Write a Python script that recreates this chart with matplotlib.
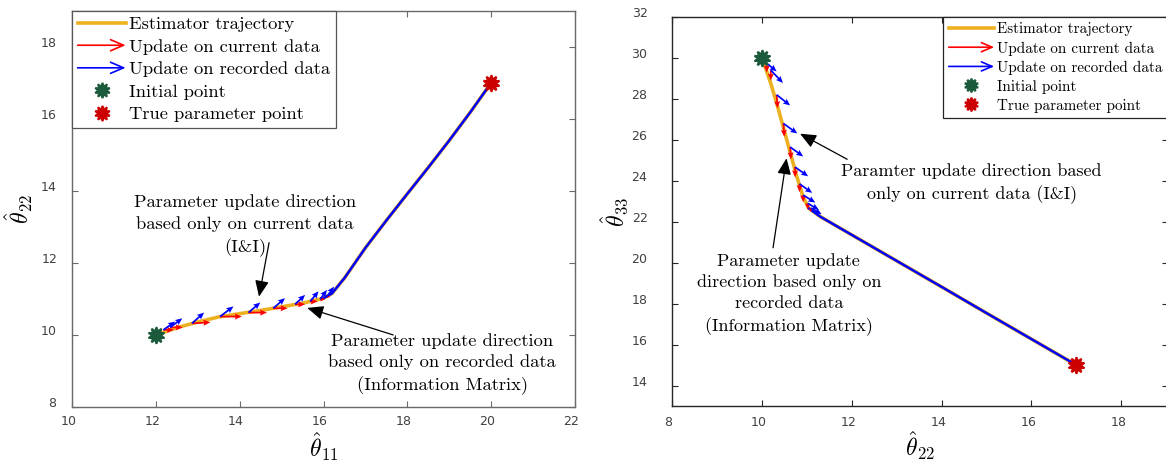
import numpy as np
import matplotlib
matplotlib.use("Agg")
import matplotlib.pyplot as plt
import matplotlib.transforms as mtransforms
from matplotlib.lines import Line2D
from matplotlib.patches import FancyArrowPatch
from matplotlib.legend_handler import HandlerBase

plt.rcParams['mathtext.fontset'] = 'cm'
plt.rcParams['axes.formatter.use_mathtext'] = True

# ---- left panel data (theta_11 vs theta_22) ----
traj1_x = [12.0, 12.5, 13.0, 13.5, 14.0, 14.5, 15.0, 15.5, 16.0, 16.2, 16.5, 17.0, 17.5, 18.0, 18.5, 19.0, 19.5, 20.0]
traj1_y = [10.0, 10.2, 10.36, 10.5, 10.59, 10.68, 10.78, 10.88, 11.02, 11.15, 11.58, 12.42, 13.18, 13.92, 14.65, 15.4, 16.18, 17.0]
arr1_x = [12.18, 12.34, 12.86, 13.53, 14.21, 14.8, 15.32, 15.68, 15.92, 16.08]
arr1_y = [10.14, 10.21, 10.32, 10.51, 10.62, 10.74, 10.85, 10.93, 10.99, 11.06]
cur1_u = [0.25, 0.3, 0.44, 0.52, 0.44, 0.34, 0.24, 0.18, 0.12, 0.08]
cur1_v = [0.0, 0.0, 0.03, 0.0, 0.0, 0.0, 0.0, 0.0, 0.0, 0.0]
rec1_u = [0.28, 0.29, 0.29, 0.32, 0.28, 0.28, 0.24, 0.2, 0.16, 0.17]
rec1_v = [0.23, 0.25, 0.3, 0.28, 0.28, 0.28, 0.26, 0.28, 0.26, 0.28]
init1 = (12.0, 10.0)
true1 = (20.0, 17.0)

# ---- right panel data (theta_22 vs theta_33) ----
traj2_x = [10.0, 10.1, 10.2, 10.33, 10.48, 10.63, 10.78, 10.92, 11.05, 11.3, 12.0, 13.0, 14.0, 15.0, 16.0, 17.0]
traj2_y = [30.0, 29.4, 28.75, 27.8, 26.6, 25.4, 24.2, 23.2, 22.65, 22.25, 21.36, 20.09, 18.82, 17.54, 16.27, 15.0]
arr2_x = [10.11, 10.2, 10.33, 10.48, 10.63, 10.74, 10.84, 10.92, 11.02, 11.09]
arr2_y = [29.74, 29.4, 28.2, 26.8, 25.65, 24.67, 23.85, 23.3, 22.9, 22.67]
cur2_u = [0.0, 0.0, 0.02, 0.02, 0.02, 0.0, 0.0, 0.0, 0.0, 0.0]
cur2_v = [-0.45, -0.5, -0.65, -0.65, -0.6, -0.5, -0.4, -0.35, -0.3, -0.2]
rec2_u = [0.22, 0.27, 0.3, 0.31, 0.29, 0.29, 0.28, 0.27, 0.25, 0.24]
rec2_v = [-0.4, -0.62, -0.52, -0.49, -0.46, -0.45, -0.44, -0.36, -0.32, -0.3]
init2 = (10.0, 30.0)
true2 = (17.0, 15.0)

c_traj = '#EDB120'
c_cur = '#FF0000'
c_rec = '#0000FF'
c_init = '#1B5A3A'
c_true = '#CC0000'
star = (10, 1, 0)
serif = 'cmr10'
arrow_kw = dict(arrowstyle='-|>,head_length=0.7,head_width=0.3',
                mutation_scale=14, color='k', lw=0.9, shrinkA=0, shrinkB=0)


class HandlerArrow(HandlerBase):
    def create_artists(self, legend, orig_handle, xdescent, ydescent,
                       width, height, fontsize, trans):
        y = height / 2 - ydescent
        a = FancyArrowPatch((-xdescent, y), (-xdescent + width, y),
                            arrowstyle='->,head_length=0.7,head_width=0.3',
                            mutation_scale=fontsize, color=orig_handle.get_color(),
                            lw=1.2, transform=trans, shrinkA=0, shrinkB=0)
        return [a]


def nudge_ticks(fig, ax, dx, dy):
    # MATLAB export places tick labels slightly off their ticks
    offx = mtransforms.ScaledTranslation(-dx / 100, 0, fig.dpi_scale_trans)
    offy = mtransforms.ScaledTranslation(0, dy / 100, fig.dpi_scale_trans)
    for lab in ax.get_xticklabels():
        lab.set_transform(lab.get_transform() + offx)
    for lab in ax.get_yticklabels():
        lab.set_transform(lab.get_transform() + offy)


def style_axes(ax, spine_col, ypad, xpad):
    for s in ax.spines.values():
        s.set_color(spine_col)
        s.set_linewidth(1.0)
    ax.tick_params(direction='in', length=4, width=0.8, color=spine_col,
                   top=True, right=True, labelsize=9, labelcolor='#404040')
    ax.tick_params(axis='y', pad=ypad)
    ax.tick_params(axis='x', pad=xpad)
    for lab in ax.get_xticklabels() + ax.get_yticklabels():
        lab.set_family(['Liberation Sans Narrow', 'DejaVu Sans'])


def draw_panel(ax, tx, ty, k, ax_, ay_, cu, cv, ru, rv, p0, p1, ms):
    ax.plot(tx, ty, color=c_traj, lw=2.6, solid_capstyle='round', zorder=2)
    ax.plot(tx[k:], ty[k:], color=c_rec, lw=1.8, zorder=3)
    ax.quiver(ax_, ay_, cu, cv, color=c_cur, angles='xy', scale_units='xy', scale=1,
              width=0.0035, headwidth=3.5, headlength=4, headaxislength=3.5, zorder=4)
    ax.quiver(ax_, ay_, ru, rv, color=c_rec, angles='xy', scale_units='xy', scale=1,
              width=0.0035, headwidth=3.5, headlength=4, headaxislength=3.5, zorder=5)
    ax.plot(*p0, ls='none', marker=star, ms=ms, mew=1.5, color=c_init, zorder=6)
    ax.plot(*p1, ls='none', marker=star, ms=ms, mew=1.5, color=c_true, zorder=6)


def legend_handles(ms):
    return [
        Line2D([], [], color=c_traj, lw=2.6),
        Line2D([], [], color=c_cur),
        Line2D([], [], color=c_rec),
        Line2D([], [], ls='none', marker=star, ms=ms, mew=1.5, color=c_init),
        Line2D([], [], ls='none', marker=star, ms=ms, mew=1.5, color=c_true),
    ]


labels = ['Estimator trajectory', 'Update on current data', 'Update on recorded data',
          'Initial point', 'True parameter point']

fig = plt.figure(figsize=(11.66, 4.63), dpi=100)
ax1 = fig.add_axes([0.0618, 0.121, 0.4314, 0.856])
ax2 = fig.add_axes([0.5763, 0.1231, 0.4254, 0.8402])

# left panel
draw_panel(ax1, traj1_x, traj1_y, 8, arr1_x, arr1_y, cur1_u, cur1_v, rec1_u, rec1_v,
           init1, true1, 12)
ax1.set_xlim(10, 22)
ax1.set_ylim(8, 19)
ax1.set_xticks(np.arange(10, 23, 2))
ax1.set_yticks(np.arange(8, 19, 2))
style_axes(ax1, '#6a6a6a', 10.5, 5.5)
ax1.set_xlabel(r'$\hat{\theta}_{11}$', fontsize=17, labelpad=2)
ax1.set_ylabel(r'$\hat{\theta}_{22}$', fontsize=17, labelpad=4)
h = legend_handles(11)
hm = {h[1]: HandlerArrow(), h[2]: HandlerArrow()}
leg = ax1.legend(h, labels, loc='upper left', borderaxespad=0, handler_map=hm,
                 prop={'family': serif, 'size': 13.3}, handlelength=2.6,
                 handletextpad=0.2, labelspacing=0.36, borderpad=0.3,
                 fancybox=False, framealpha=1, edgecolor='#555555')
leg.get_frame().set_linewidth(0.9)

ax1.text(14.13, 13.03, 'Parameter update direction\nbased only on current data\n(I&I)',
         ha='center', va='center', family=serif, fontsize=13.3, linespacing=1.45)
ax1.annotate('', xy=(14.46, 11.06), xytext=(14.70, 12.56), arrowprops=arrow_kw)
ax1.text(18.83, 9.19, 'Parameter update direction\nbased only on recorded data\n(Information Matrix)',
         ha='center', va='center', family=serif, fontsize=13.3, linespacing=1.45)
ax1.annotate('', xy=(15.61, 10.75), xytext=(17.66, 10.0), arrowprops=arrow_kw)

# right panel
draw_panel(ax2, traj2_x, traj2_y, 8, arr2_x, arr2_y, cur2_u, cur2_v, rec2_u, rec2_v,
           init2, true2, 12)
ax2.set_xlim(8, 19.04)
ax2.set_ylim(13, 32)
ax2.set_xticks(np.arange(8, 19, 2))
ax2.set_yticks(np.arange(14, 33, 2))
style_axes(ax2, '#262626', 17, 7.5)
ax2.set_xlabel(r'$\hat{\theta}_{22}$', fontsize=17, labelpad=0)
ax2.set_ylabel(r'$\hat{\theta}_{33}$', fontsize=17, labelpad=0)
h2 = legend_handles(10)
hm2 = {h2[1]: HandlerArrow(), h2[2]: HandlerArrow()}
leg2 = ax2.legend(h2, labels, loc='upper right', borderaxespad=0, handler_map=hm2,
                  prop={'family': serif, 'size': 10.9}, handlelength=3.0,
                  handletextpad=0.2, labelspacing=0.33, borderpad=0.35,
                  fancybox=False, framealpha=1, edgecolor='#262626')
leg2.get_frame().set_linewidth(0.9)

ax2.text(14.67, 23.88, 'Paramter update direction based\nonly on current data (I&I)',
         ha='center', va='center', family=serif, fontsize=13.0, linespacing=1.45)
ax2.annotate('', xy=(10.85, 26.3), xytext=(11.9, 25.05), arrowprops=arrow_kw)
ax2.text(10.6, 18.44, 'Parameter update\ndirection based only on\nrecorded data\n(Information Matrix)',
         ha='center', va='center', family=serif, fontsize=13.0, linespacing=1.45)
ax2.annotate('', xy=(10.55, 25.1), xytext=(10.25, 20.73), arrowprops=arrow_kw)

nudge_ticks(fig, ax1, 4, 5)
nudge_ticks(fig, ax2, 3, 5)

fig.savefig('out.png', dpi=100)
